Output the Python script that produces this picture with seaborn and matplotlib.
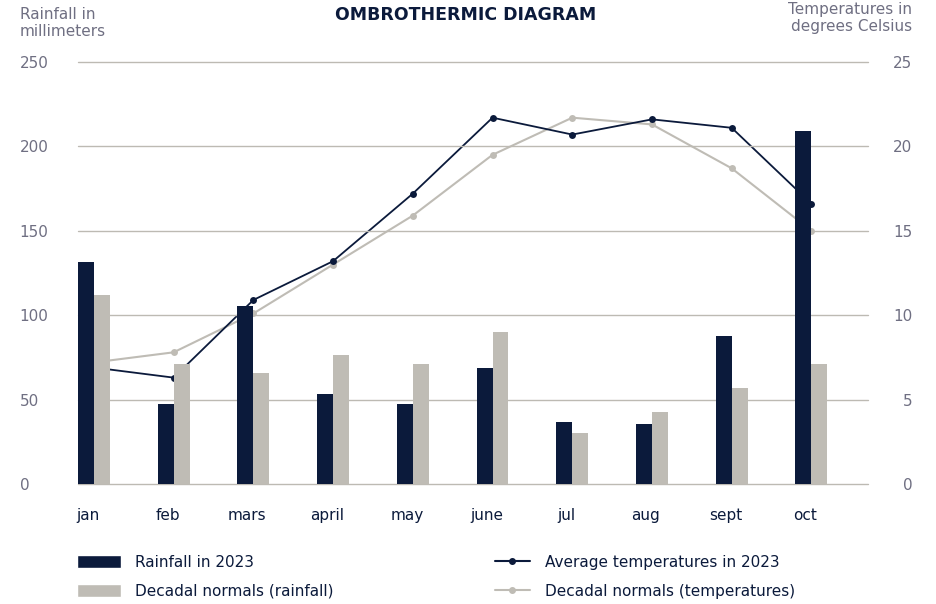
"""
Ombrothermic diagram: monthly rainfall bars (2023 vs decadal normals)
with average temperature lines on a secondary axis.
"""

import numpy as np
import pandas as pd
import matplotlib
matplotlib.use("Agg")
import matplotlib.pyplot as plt
import matplotlib.transforms as mtransforms
from matplotlib.patches import Patch
from matplotlib.lines import Line2D
import seaborn as sns

# data
months = ["jan", "feb", "mars", "april", "may", "june", "jul", "aug", "sept", "oct"]
rain_2023 = [131.5, 47.4, 105.5, 53.3, 47.4, 68.7, 36.7, 35.5, 87.7, 209.0]
rain_normal = [112.0, 71.0, 65.8, 76.4, 71.0, 90.0, 30.2, 42.6, 56.9, 71.0]
temp_2023 = [6.9, 6.3, 10.9, 13.2, 17.2, 21.7, 20.7, 21.6, 21.1, 16.6]
temp_normal = [7.2, 7.8, 10.1, 13.0, 15.9, 19.5, 21.7, 21.3, 18.7, 15.0]

rain_labels = ["Rainfall in 2023", "Decadal normals (rainfall)"]
temp_labels = ["Average temperatures in 2023", "Decadal normals (temperatures)"]

NAVY = "#0b1a3b"
LIGHT = "#bfbcb5"
GRID = "#bdbab3"
TICK = "#6f6f82"

sns.set_style("white")
plt.rcParams["font.family"] = ["DejaVu Sans"]

rain_df = pd.DataFrame({
    "month": months * 2,
    "rain": rain_2023 + rain_normal,
    "series": [rain_labels[0]] * len(months) + [rain_labels[1]] * len(months),
})

fig = plt.figure(figsize=(9.37, 6.04), dpi=100)
ax = fig.add_axes([0.0832, 0.1987, 0.8432, 0.6987])
ax2 = ax.twinx()

# bars on the rainfall axis
sns.barplot(data=rain_df, x="month", y="rain", hue="series",
            palette=[NAVY, LIGHT], width=0.4, saturation=1,
            linewidth=0, edgecolor="none", ax=ax, legend=False)

# temperature lines on the right axis
pos = np.arange(len(months))
sns.lineplot(x=pos, y=temp_normal, ax=ax2, color=LIGHT, lw=1.5,
             marker="o", markersize=5, markeredgewidth=0)
sns.lineplot(x=pos, y=temp_2023, ax=ax2, color=NAVY, lw=1.3,
             marker="o", markersize=5, markeredgewidth=0)

# bars sit above the lines
ax.set_zorder(ax2.get_zorder() + 1)
ax.patch.set_visible(False)

ax.set_xlim(-0.2, 9.71)
ax.set_ylim(0, 250)
ax2.set_ylim(0, 25)
ax.set_yticks(range(0, 251, 50))
ax2.set_yticks(range(0, 26, 5))

ax.yaxis.grid(True, color=GRID, lw=1)
for gl in ax.get_ygridlines():
    gl.set_clip_on(False)
ax.set_axisbelow(True)
for a in (ax, ax2):
    for s in a.spines.values():
        s.set_visible(False)
    a.set_xlabel("")
    a.set_ylabel("")

ax.tick_params(axis="y", length=0, pad=42, labelsize=11, labelcolor=TICK)
for lab in ax.get_yticklabels():
    lab.set_horizontalalignment("left")
ax2.tick_params(axis="y", length=0, pad=32, labelsize=11, labelcolor=TICK)
for lab in ax2.get_yticklabels():
    lab.set_horizontalalignment("right")

ax.tick_params(axis="x", length=0, pad=17, labelsize=11, labelcolor=NAVY)
shift = mtransforms.ScaledTranslation(-6 / 100, 0, fig.dpi_scale_trans)
for lab in ax.get_xticklabels():
    lab.set_transform(lab.get_transform() + shift)

# titles and axis captions
fig.text(466 / 937, 1 - 15 / 604, "OMBROTHERMIC DIAGRAM", ha="center", va="center",
         fontsize=12.5, fontweight="bold", color=NAVY)
fig.text(20 / 937, 1 - 7 / 604, "Rainfall in\nmillimeters", ha="left", va="top",
         fontsize=11, color=TICK, linespacing=1.15)
fig.text(912 / 937, 1 - 2 / 604, "Temperatures in\ndegrees Celsius", ha="right", va="top",
         fontsize=11, color=TICK, linespacing=1.15, multialignment="right")

# legends
bar_handles = [Patch(facecolor=NAVY), Patch(facecolor=LIGHT)]
fig.legend(bar_handles, rain_labels, loc="upper left",
           bbox_to_anchor=(63 / 937, 1 - 541 / 604), frameon=False,
           fontsize=11, handlelength=2.9, handleheight=1.0,
           handletextpad=0.9, labelspacing=0.9, labelcolor=NAVY)
line_handles = [Line2D([], [], color=NAVY, lw=1.5, marker="o", markersize=4),
                Line2D([], [], color=LIGHT, lw=1.5, marker="o", markersize=4)]
fig.legend(line_handles, temp_labels, loc="upper left",
           bbox_to_anchor=(481 / 937, 1 - 541 / 604), frameon=False,
           fontsize=11, handlelength=2.3, handleheight=1.0, handletextpad=1.0,
           labelspacing=0.9, labelcolor=NAVY)

fig.savefig("out.png", dpi=100)
